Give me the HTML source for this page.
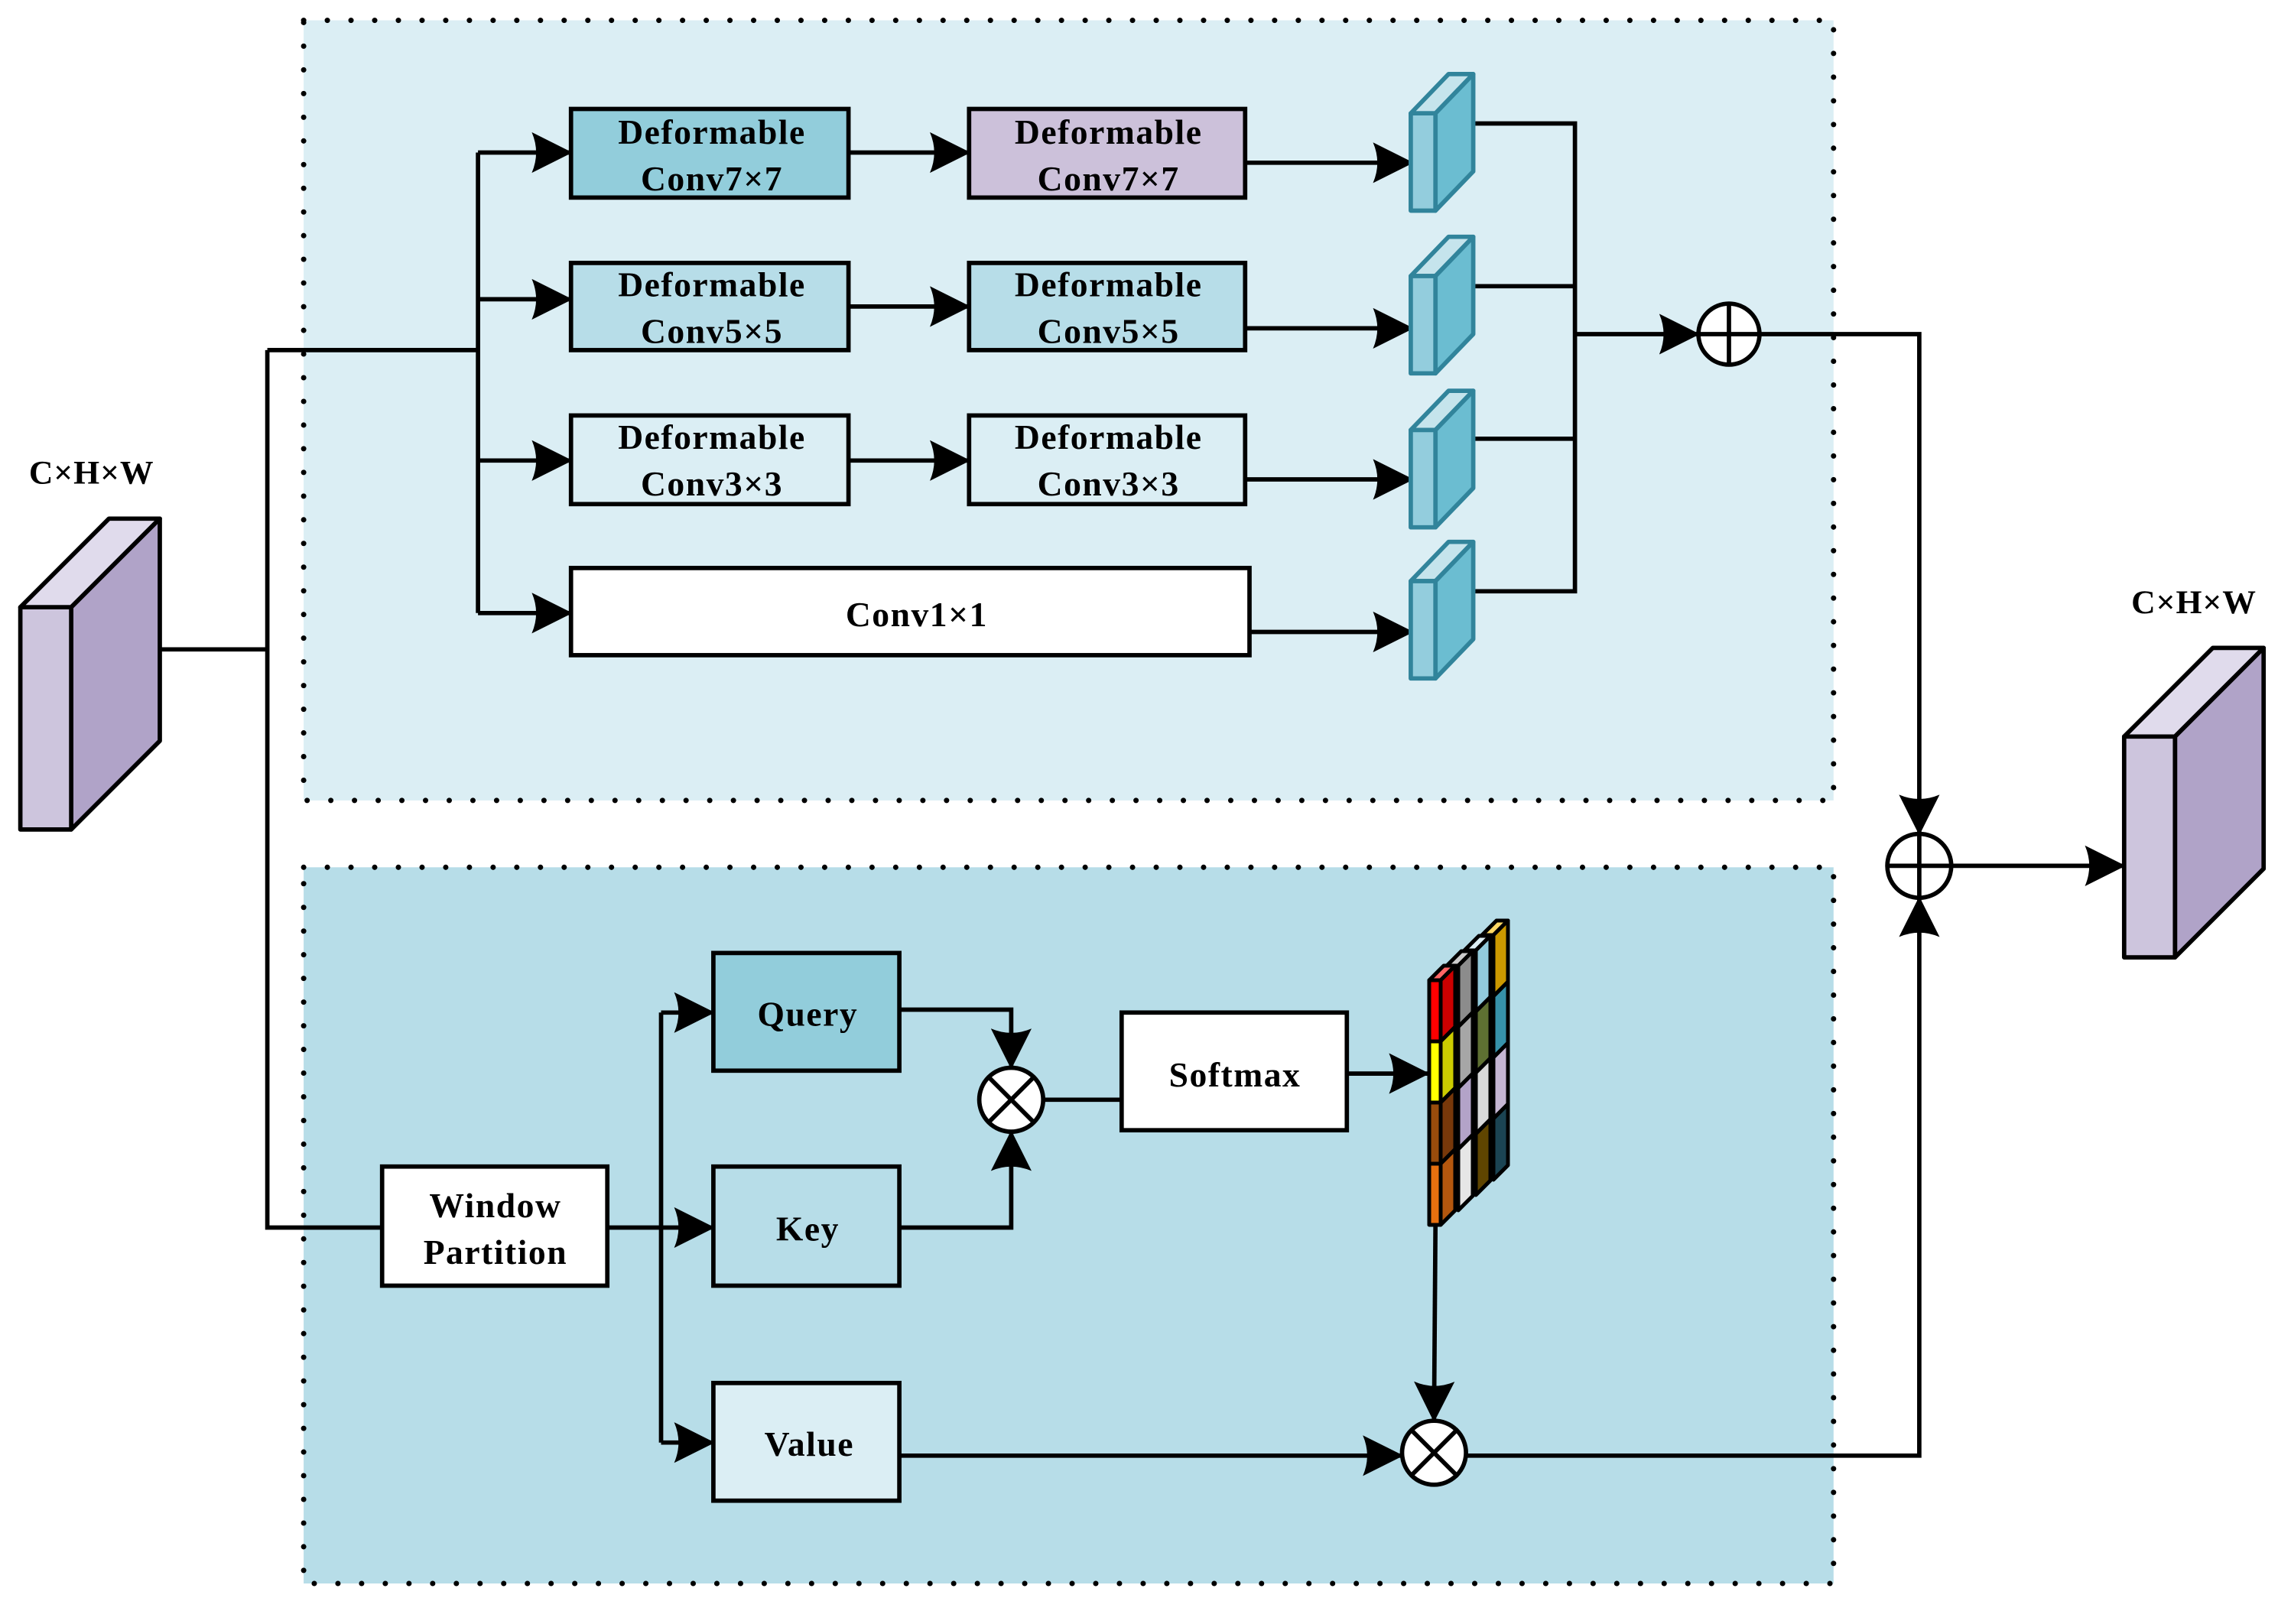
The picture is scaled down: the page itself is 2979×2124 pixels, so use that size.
<!DOCTYPE html>
<html><head><meta charset="utf-8"><style>
html,body{margin:0;padding:0;background:#fff;}
svg{display:block;}
text{font-family:"Liberation Serif",serif;font-weight:bold;fill:#000;}
</style></head><body>
<svg width="2979" height="2124" viewBox="0 0 2979 2124" xmlns="http://www.w3.org/2000/svg">
<defs>
<marker id="a" viewBox="0 0 28 28" refX="27" refY="14" markerWidth="28" markerHeight="28" markerUnits="userSpaceOnUse" orient="auto">
<path d="M0,0 Q6,14 0,28 L28,14 Z" fill="#000"/>
</marker>
</defs>
<g transform="scale(1.9)">
<rect x="209" y="14" width="1053" height="537" fill="#dbeef4"/>
<rect x="209" y="597" width="1053" height="493" fill="#b7dde8"/>
<g fill="none" stroke="#000" stroke-width="3.7" stroke-linecap="round" stroke-dasharray="0 16.3">
<rect x="209" y="14" width="1053" height="537"/>
<rect x="209" y="597" width="1053" height="493"/>
</g>

<g stroke="#000" stroke-width="3" stroke-linejoin="round">
<polygon points="14,418 49,418 110,357 75,357" fill="#e0dbec"/>
<polygon points="49,418 110,357 110,510 49,571" fill="#b0a3c8"/>
<rect x="14" y="418" width="35" height="153" fill="#cdc5dd"/>
<polygon points="1462,507 1497,507 1558,446 1523,446" fill="#e0dbec"/>
<polygon points="1497,507 1558,446 1558,598 1497,659" fill="#b0a3c8"/>
<rect x="1462" y="507" width="35" height="152" fill="#cdc5dd"/>
</g>
<text x="63" y="333" font-size="23" text-anchor="middle" letter-spacing="0.5">C×H×W</text>
<text x="1510" y="422" font-size="23" text-anchor="middle" letter-spacing="0.5">C×H×W</text>

<g fill="none" stroke="#000" stroke-width="3">
<polyline points="110,447 184,447"/>
<polyline points="184,241 184,845 263,845"/>
<polyline points="184,241 329,241"/>
<polyline points="329,105 329,422"/>
<line x1="329" y1="105" x2="393" y2="105" marker-end="url(#a)"/>
<line x1="329" y1="206" x2="393" y2="206" marker-end="url(#a)"/>
<line x1="329" y1="317" x2="393" y2="317" marker-end="url(#a)"/>
<line x1="329" y1="422" x2="393" y2="422" marker-end="url(#a)"/>
<line x1="584" y1="105" x2="667" y2="105" marker-end="url(#a)"/>
<line x1="584" y1="211" x2="667" y2="211" marker-end="url(#a)"/>
<line x1="584" y1="317" x2="667" y2="317" marker-end="url(#a)"/>
<line x1="857" y1="112" x2="972" y2="112" marker-end="url(#a)"/>
<line x1="857" y1="226" x2="972" y2="226" marker-end="url(#a)"/>
<line x1="857" y1="330" x2="972" y2="330" marker-end="url(#a)"/>
<line x1="860" y1="435" x2="972" y2="435" marker-end="url(#a)"/>
<polyline points="1015,85 1084,85 1084,407 1015,407"/>
<line x1="1015" y1="197" x2="1084" y2="197"/>
<line x1="1015" y1="302" x2="1084" y2="302"/>
<line x1="1084" y1="230" x2="1169" y2="230" marker-end="url(#a)"/>
<polyline points="1211,230 1321,230 1321,574" marker-end="url(#a)"/>
<line x1="1343" y1="596" x2="1462" y2="596" marker-end="url(#a)"/>
<line x1="418" y1="845" x2="491" y2="845" marker-end="url(#a)"/>
<polyline points="455,697 455,993"/>
<line x1="455" y1="697" x2="491" y2="697" marker-end="url(#a)"/>
<line x1="455" y1="993" x2="491" y2="993" marker-end="url(#a)"/>
<polyline points="619,695 696,695 696,735" marker-end="url(#a)"/>
<polyline points="619,845 696,845 696,779" marker-end="url(#a)"/>
<line x1="718" y1="757" x2="772" y2="757"/>
<line x1="927" y1="739" x2="983" y2="739" marker-end="url(#a)"/>
<polyline points="988,843 987,978" marker-end="url(#a)"/>
<line x1="619" y1="1002" x2="965" y2="1002" marker-end="url(#a)"/>
<polyline points="1009,1002 1321,1002 1321,618" marker-end="url(#a)"/>
</g>

<g stroke="#000" stroke-width="3">
<rect x="393" y="75" width="191" height="61" fill="#92cddb"/>
<rect x="667" y="75" width="190" height="61" fill="#ccc1da"/>
<rect x="393" y="181" width="191" height="60" fill="#b7dde8"/>
<rect x="667" y="181" width="190" height="60" fill="#b7dde8"/>
<rect x="393" y="286" width="191" height="61" fill="#dbeef4"/>
<rect x="667" y="286" width="190" height="61" fill="#dbeef4"/>
<rect x="393" y="391" width="467" height="60" fill="#fff"/>
<rect x="263" y="803" width="155" height="82" fill="#fff"/>
<rect x="491" y="656" width="128" height="81" fill="#92cddb"/>
<rect x="491" y="803" width="128" height="82" fill="#b7dde8"/>
<rect x="491" y="952" width="128" height="81" fill="#dbeef4"/>
<rect x="772" y="697" width="155" height="81" fill="#fff"/>
</g>
<g font-size="24" text-anchor="middle" letter-spacing="0.8">
<text x="490" y="99">Deformable</text><text x="490" y="131">Conv7×7</text>
<text x="763" y="99">Deformable</text><text x="763" y="131">Conv7×7</text>
<text x="490" y="204">Deformable</text><text x="490" y="236">Conv5×5</text>
<text x="763" y="204">Deformable</text><text x="763" y="236">Conv5×5</text>
<text x="490" y="309">Deformable</text><text x="490" y="341">Conv3×3</text>
<text x="763" y="309">Deformable</text><text x="763" y="341">Conv3×3</text>
<text x="631" y="431">Conv1×1</text>
<text x="341" y="838">Window</text><text x="341" y="870">Partition</text>
<text x="556" y="706">Query</text>
<text x="556" y="854">Key</text>
<text x="557" y="1002">Value</text>
<text x="850" y="748">Softmax</text>
</g>

<g stroke="#31849b" stroke-width="3" stroke-linejoin="round">
<g id="c1">
<polygon points="971,78 988,78 1014,51 997,51" fill="#c5e4ec"/>
<polygon points="988,78 1014,51 1014,118 988,145" fill="#6bbdd1"/>
<rect x="971" y="78" width="17" height="67" fill="#93cddd"/>
</g>
<use href="#c1" y="112"/>
<use href="#c1" y="218"/>
<use href="#c1" y="322"/>
</g>

<g fill="#fff" stroke="#000" stroke-width="3">
<circle cx="1190" cy="230" r="21"/>
<line x1="1169" y1="230" x2="1211" y2="230"/><line x1="1190" y1="209" x2="1190" y2="251"/>
<circle cx="1321" cy="596" r="22"/>
<line x1="1299" y1="596" x2="1343" y2="596"/><line x1="1321" y1="574" x2="1321" y2="618"/>
<circle cx="696" cy="757" r="22"/>
<line x1="680.4" y1="741.4" x2="711.6" y2="772.6"/><line x1="711.6" y1="741.4" x2="680.4" y2="772.6"/>
<circle cx="987" cy="1000" r="22"/>
<line x1="971.4" y1="984.4" x2="1002.6" y2="1015.6"/><line x1="1002.6" y1="984.4" x2="971.4" y2="1015.6"/>
</g>
</g>

<g stroke="#000" stroke-width="5" stroke-linejoin="round">
<polygon points="1938,1223 1953,1223 1972,1204 1957,1204" fill="#ffd966"/>
<polygon points="1953,1223 1972,1204 1972,1284 1953,1303" fill="#cc9900"/>
<polygon points="1953,1303 1972,1284 1972,1364 1953,1383" fill="#3792aa"/>
<polygon points="1953,1383 1972,1364 1972,1444 1953,1463" fill="#c5b6d3"/>
<polygon points="1953,1463 1972,1444 1972,1524 1953,1543" fill="#1b4453"/>
<polygon points="1915,1243 1930,1243 1949,1224 1934,1224" fill="#ddeef4"/>
<polygon points="1930,1243 1949,1224 1949,1304 1930,1323" fill="#92cbdc"/>
<polygon points="1930,1323 1949,1304 1949,1384 1930,1403" fill="#5e7032"/>
<polygon points="1930,1403 1949,1384 1949,1464 1930,1483" fill="#d9d9d9"/>
<polygon points="1930,1483 1949,1464 1949,1544 1930,1563" fill="#5f4500"/>
<polygon points="1892,1263 1907,1263 1926,1244 1911,1244" fill="#cccccc"/>
<polygon points="1907,1263 1926,1244 1926,1324 1907,1343" fill="#8c8c8c"/>
<polygon points="1907,1343 1926,1324 1926,1404 1907,1423" fill="#a6a6a6"/>
<polygon points="1907,1423 1926,1404 1926,1484 1907,1503" fill="#b3a3c8"/>
<polygon points="1907,1503 1926,1484 1926,1564 1907,1583" fill="#e6e6e6"/>
<polygon points="1869,1282 1884,1282 1903,1263 1888,1263" fill="#ff6666"/>
<polygon points="1884,1282 1903,1263 1903,1343 1884,1362" fill="#cc0000"/>
<polygon points="1884,1362 1903,1343 1903,1423 1884,1442" fill="#cccc00"/>
<polygon points="1884,1442 1903,1423 1903,1503 1884,1522" fill="#77380a"/>
<polygon points="1884,1522 1903,1503 1903,1583 1884,1602" fill="#b5570e"/>
<rect x="1869" y="1282" width="15" height="80" fill="#ff0000"/>
<rect x="1869" y="1362" width="15" height="80" fill="#ffff00"/>
<rect x="1869" y="1442" width="15" height="80" fill="#994c0c"/>
<rect x="1869" y="1522" width="15" height="80" fill="#e8700f"/>
</g>
</svg>
</body></html>
